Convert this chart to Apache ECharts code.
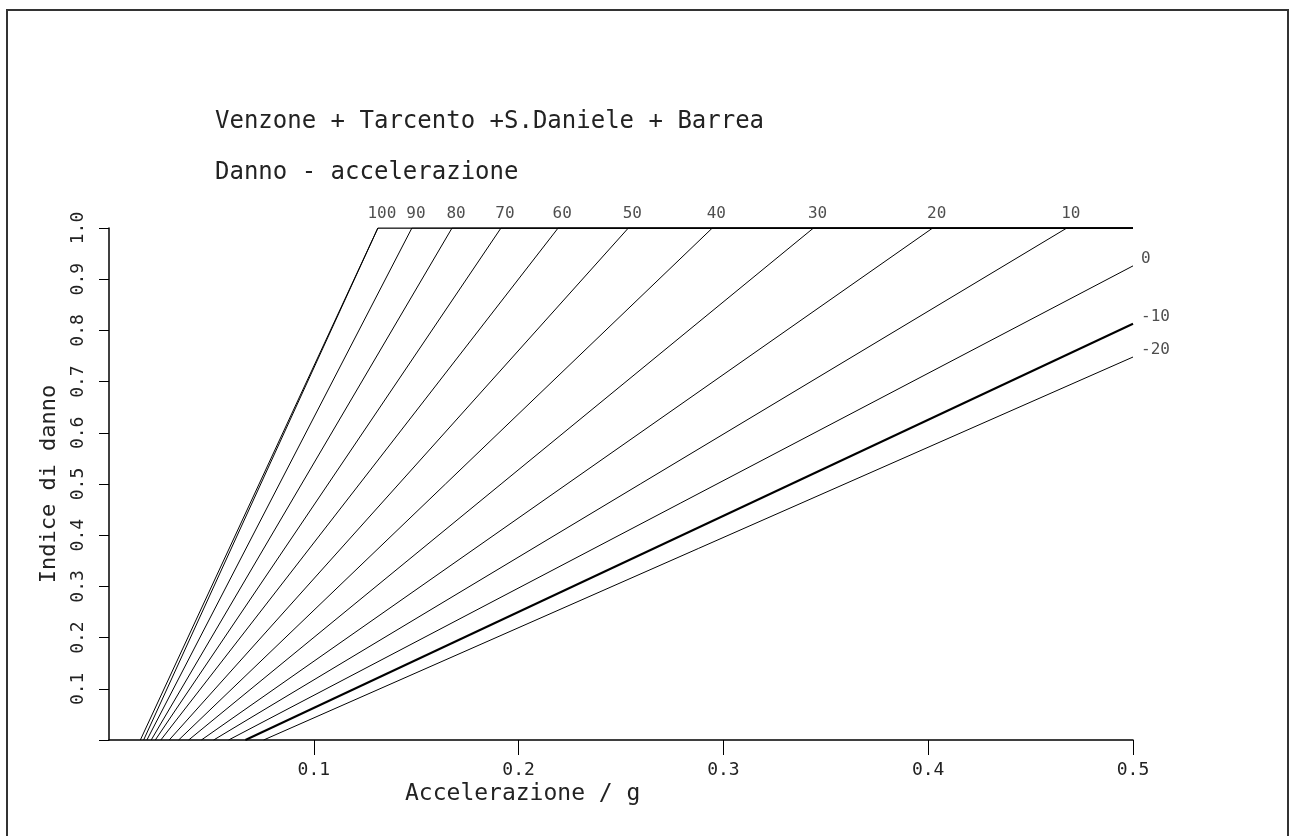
<!DOCTYPE html>
<html>
<head>
<meta charset="utf-8">
<script src="https://cdn.jsdelivr.net/npm/echarts@6/dist/echarts.min.js"></script>
<style>
  html, body { margin: 0; padding: 0; background: #fff; }
  #chart { width: 1289px; height: 836px; }
</style>
</head>
<body>
<div id="chart"></div>
<script>
// curve labels (first one unlabeled, it meets the 100 curve at the top)
const curveNames = ['', '100', '90', '80', '70', '60', '50', '40', '30', '20', '10', '0', '-10', '-20'];
// acceleration where damage index is 0
const accAtZero = [0.0153, 0.0169, 0.0185, 0.0206, 0.0226, 0.0253, 0.0294, 0.0340, 0.0389, 0.0451, 0.0511, 0.0584, 0.0666, 0.0755];
// acceleration where damage index reaches 1.0 (null = not reached before 0.5)
const accAtFull = [0.1313, 0.1313, 0.1479, 0.1675, 0.1914, 0.2193, 0.2536, 0.2946, 0.3440, 0.4022, 0.4677, null, null, null];
// damage index at the right end of the axis for curves that stay below 1.0
const damageAtEnd = [null, null, null, null, null, null, null, null, null, null, null, 0.926, 0.813, 0.748];

const xTicks = [0.1, 0.2, 0.3, 0.4, 0.5];
const yTicks = [0, 0.1, 0.2, 0.3, 0.4, 0.5, 0.6, 0.7, 0.8, 0.9, 1.0];
const accMax = 0.5;

const font = 'DejaVu Sans Mono';
const ink = '#222';

let series = [];
let topLabels = [];
let sideLabels = [];
curveNames.forEach((name, i) => {
    let pts;
    if (accAtFull[i] != null) {
        pts = [[accAtZero[i], 0], [accAtFull[i], 1], [accMax, 1]];
        if (name) topLabels.push([accAtFull[i], 1, name]);
    } else {
        pts = [[accAtZero[i], 0], [accMax, damageAtEnd[i]]];
        sideLabels.push([accMax, damageAtEnd[i], name]);
    }
    series.push({
        type: 'line',
        data: pts,
        symbol: 'none',
        silent: true,
        lineStyle: { color: '#000', width: name === '-10' ? 2 : 1 }
    });
});

series.push({
    type: 'scatter',
    data: topLabels,
    symbolSize: 0,
    silent: true,
    label: {
        show: true,
        position: 'top',
        distance: 6,
        offset: [4, 0],
        formatter: p => p.data[2],
        fontFamily: font,
        fontSize: 16,
        color: ink
    }
});
series.push({
    type: 'scatter',
    data: sideLabels,
    symbolSize: 0,
    silent: true,
    label: {
        show: true,
        position: 'right',
        distance: 8,
        offset: [0, -7],
        formatter: p => p.data[2],
        fontFamily: font,
        fontSize: 16,
        color: ink
    }
});

let chart = echarts.init(document.getElementById('chart'));
chart.setOption({
    backgroundColor: '#fff',
    animation: false,
    title: [
        {
            text: 'Venzone + Tarcento +S.Daniele + Barrea',
            left: 210, top: 105,
            textStyle: { fontFamily: font, fontSize: 24, fontWeight: 'normal', color: ink }
        },
        {
            text: 'Danno - accelerazione',
            left: 210, top: 156,
            textStyle: { fontFamily: font, fontSize: 24, fontWeight: 'normal', color: ink }
        }
    ],
    graphic: [
        {
            type: 'rect',
            shape: { x: 7, y: 10, width: 1281, height: 840 },
            style: { fill: 'none', stroke: '#333', lineWidth: 2 },
            silent: true
        },
        {
            type: 'text',
            left: 405, top: 783,
            style: { text: 'Accelerazione / g', fontFamily: font, fontSize: 23, fill: ink }
        }
    ],
    grid: { left: 109, right: 156, top: 228, bottom: 96 },
    xAxis: {
        type: 'value',
        min: 0,
        max: accMax,
        splitLine: { show: false },
        axisLine: { lineStyle: { color: '#000', width: 1.5 } },
        axisTick: { show: true, length: 15, customValues: xTicks, lineStyle: { color: '#000' } },
        axisLabel: {
            customValues: xTicks,
            formatter: v => v.toFixed(1),
            margin: 21,
            fontFamily: font,
            fontSize: 18,
            color: ink
        }
    },
    yAxis: {
        type: 'value',
        min: 0,
        max: 1,
        name: 'Indice di danno',
        nameLocation: 'middle',
        nameGap: 49,
        nameTextStyle: { fontFamily: font, fontSize: 22, color: ink },
        splitLine: { show: false },
        axisLine: { lineStyle: { color: '#000', width: 1.5 } },
        axisTick: { show: true, length: 10, customValues: yTicks, lineStyle: { color: '#000' } },
        axisLabel: {
            customValues: yTicks.slice(1),
            formatter: v => v.toFixed(1),
            rotate: 90,
            margin: 22,
            fontFamily: font,
            fontSize: 18,
            color: ink
        }
    },
    series: series
});
</script>
</body>
</html>
